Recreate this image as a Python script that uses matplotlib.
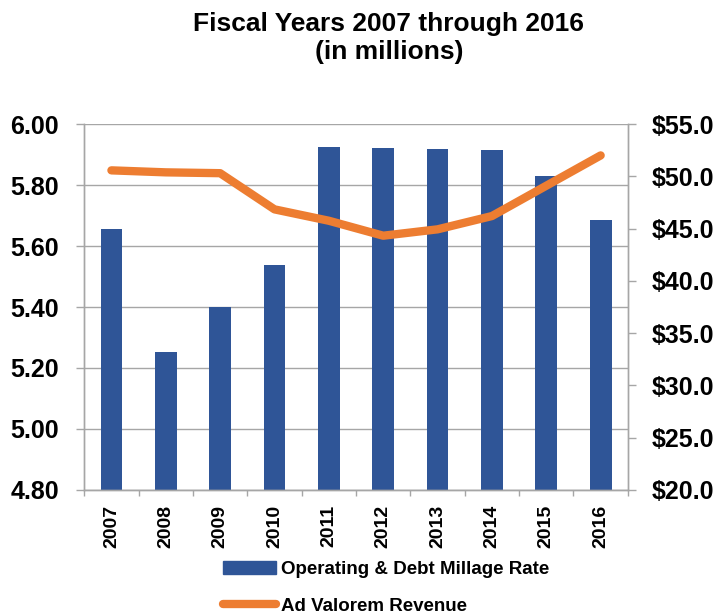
import numpy as np
import matplotlib
matplotlib.use("Agg")
import matplotlib.pyplot as plt
from matplotlib.lines import Line2D
from matplotlib.patches import Patch

plt.rcParams['font.family'] = ['Liberation Sans', 'DejaVu Sans']
plt.rcParams['font.weight'] = 'bold'

years = ['2007', '2008', '2009', '2010', '2011', '2012', '2013', '2014', '2015', '2016']
millage_rate = [5.656, 5.252, 5.400, 5.538, 5.926, 5.922, 5.919, 5.914, 5.830, 5.686]
ad_valorem = [50.57, 50.38, 50.30, 46.84, 45.75, 44.32, 44.93, 46.20, 49.10, 52.00]

bar_color = '#2F5597'
line_color = '#ED7D31'
grid_color = '#A6A6A6'

fig = plt.figure(figsize=(7.2, 6.15), dpi=100)
ax = fig.add_axes([0.117, 0.2033, 0.755, 0.595])
ax2 = ax.twinx()

x = np.arange(len(years))
ax.bar(x, millage_rate, width=0.4, color=bar_color, zorder=2)
ax.set_ylim(4.80, 6.00)
ax.set_yticks(np.arange(4.80, 6.001, 0.20))
ax.set_yticklabels([f'{v:.2f}' for v in np.arange(4.80, 6.001, 0.20)])
ax.yaxis.grid(True, color=grid_color, linewidth=1.0, zorder=0)
ax.set_axisbelow(True)

ax.set_xlim(-0.5, len(years) - 0.5)
ax.set_xticks(np.arange(-0.5, len(years), 1.0))
ax.set_xticklabels([])
ax.set_xticks(x, minor=True)
ax.set_xticklabels(years, minor=True, rotation=90, fontsize=14, fontweight='bold')
ax.tick_params(axis='x', which='major', length=4, color=grid_color, width=1)
ax.tick_params(axis='x', which='minor', length=0, pad=11)
ax.tick_params(axis='y', length=6, color=grid_color, width=1, labelsize=18, pad=12)

ax2.plot(x, ad_valorem, color=line_color, linewidth=6, solid_capstyle='round',
         solid_joinstyle='round', zorder=3)
ax2.set_ylim(20, 55)
ax2.set_yticks(np.arange(20, 55.1, 5))
ax2.set_yticklabels([f'${v:.1f}' for v in np.arange(20, 55.1, 5)])
ax2.tick_params(axis='y', length=6, color=grid_color, width=1, labelsize=18, pad=11)

for a in (ax, ax2):
    a.spines['top'].set_visible(False)
    for s in ('left', 'right', 'bottom'):
        a.spines[s].set_color(grid_color)
        a.spines[s].set_linewidth(1.0)

fig.suptitle('Fiscal Years 2007 through 2016\n(in millions)', fontsize=19,
             fontweight='bold', x=0.54, y=0.98, linespacing=1.2)

handles = [Patch(color=bar_color),
           Line2D([0], [0], color=line_color, linewidth=6, solid_capstyle='round')]
fig.legend(handles, ['Operating & Debt Millage Rate', 'Ad Valorem Revenue'],
           loc='upper left', bbox_to_anchor=(0.31, 0.0885), frameon=False,
           prop={'size': 13.5, 'weight': 'bold'}, handlelength=2.8,
           handletextpad=0.3, labelspacing=1.05, borderaxespad=0, borderpad=0)

fig.savefig('out.png', dpi=100)
